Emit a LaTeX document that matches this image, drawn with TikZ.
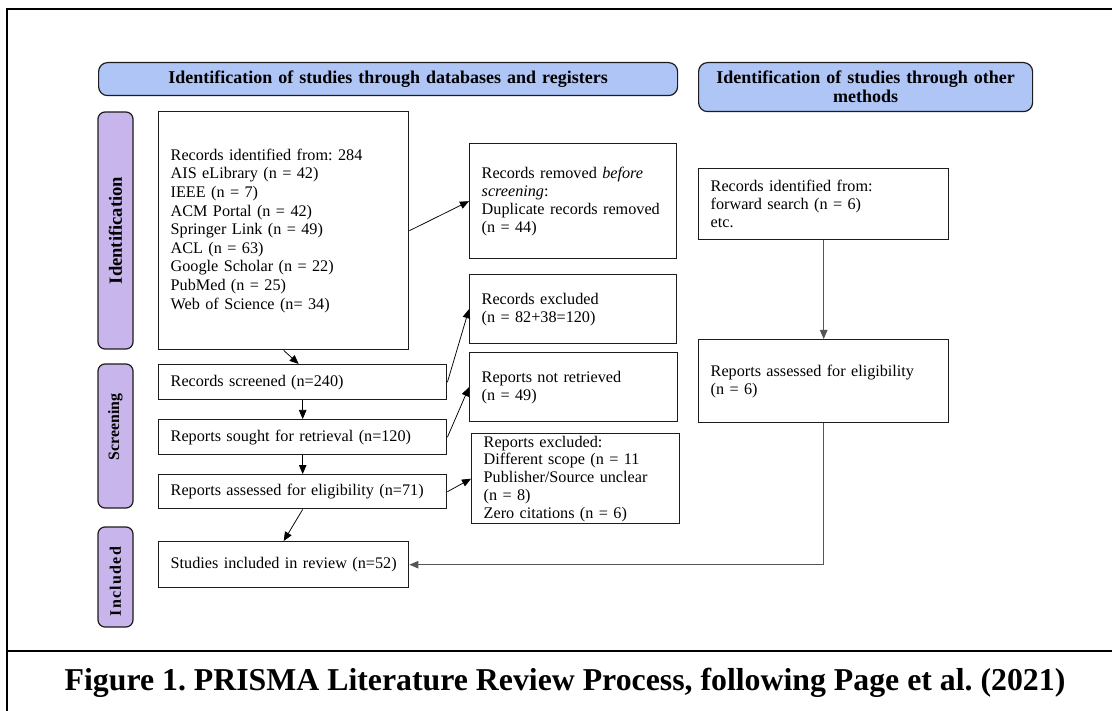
\documentclass[tikz,border=0pt]{standalone}
\usepackage{fontspec}
\setmainfont{Liberation Serif}
\usetikzlibrary{arrows.meta,calc}
\definecolor{hdrblue}{RGB}{175,197,246}
\definecolor{sidepurple}{RGB}{200,181,235}
\definecolor{boxline}{RGB}{28,28,28}
\definecolor{greyline}{RGB}{85,85,85}
\newcommand{\nb}[1]{\mbox{#1}}
\begin{document}
\frenchspacing
\begin{tikzpicture}[x=1pt,y=-1pt,
  box/.style={draw=boxline,line width=1.4pt,anchor=north west,inner xsep=12pt,inner ysep=0pt,
    align=left,font=\fontsize{16.2}{18}\selectfont},
  hdr/.style={draw=boxline,line width=1.2pt,fill=hdrblue,rounded corners=9pt,anchor=north west,
    inner sep=0pt,align=center,font=\bfseries\fontsize{18}{19}\selectfont},
  side/.style={draw=boxline,line width=1.2pt,fill=sidepurple,rounded corners=7pt,rotate=90,
    inner sep=0pt,minimum height=35pt},
  arr/.style={draw=black,line width=0.75pt,-{Triangle[length=9pt,width=7.5pt]}},
  garr/.style={draw=greyline,line width=1pt,-{Triangle[length=9pt,width=7.5pt]}},
  frame/.style={line width=2.6pt,draw=black}]
\useasboundingbox (0,0) rectangle (1112,711);
\fill[white] (0,0) rectangle (1112,711);
% outer frame
\draw[frame] (1125,9) -- (7,9) -- (7,725);
\draw[frame] (7,651) -- (1125,651);
\node[font=\bfseries\fontsize{31.8}{36}\selectfont] (cap) at (565,683) {Figure 1. PRISMA Literature Review Process, following Page et al. (2021)};
% headers
\node[hdr,minimum width=579pt,minimum height=33pt,text width=570pt] (h1) at (98,62) {Identification of studies through databases and registers};
\node[hdr,minimum width=334pt,minimum height=49pt,text width=325pt] (h2) at (698,62) {Identification of studies through other\\methods};
% side labels
\node[side,minimum width=237pt,font=\bfseries\fontsize{18.6}{20}\selectfont] (sid) at (115.5,230.5) {Identification};
\node[side,minimum width=144pt,font=\bfseries\fontsize{15.8}{18}\selectfont] (sscr) at (115.5,436) {\hspace*{18pt}Screening};
\node[side,minimum width=100pt,font=\bfseries\fontsize{16}{18}\selectfont\addfontfeatures{LetterSpace=8}] (sinc) at (115.5,577) {Included\hspace*{9pt}};
% boxes
\node[box,minimum width=250pt,minimum height=238pt,text width=226pt,font=\fontsize{16.2}{18.6}\selectfont] (recid) at (158,111)
  {Records identified from: 284\\AIS eLibrary (n = 42)\\IEEE (n = 7)\\ACM Portal (n = 42)\\Springer Link (n = 49)\\ACL (n = 63)\\Google Scholar (n = 22)\\PubMed (n = 25)\\Web of Science (n= 34)};
\node[box,minimum width=207pt,minimum height=115pt,text width=183pt] (removed) at (469,143)
  {\nb{Records removed \textit{before}}\\\textit{screening}:\\\nb{Duplicate records removed}\\(n = 44)};
\node[box,minimum width=207pt,minimum height=69pt,text width=183pt] (recexcl) at (469,274)
  {Records excluded\\(n = 82+38=120)};
\node[box,minimum width=288pt,minimum height=35pt,text width=264pt] (screened) at (158,364)
  {Records screened (n=240)};
\node[box,minimum width=208pt,minimum height=69pt,text width=184pt] (notret) at (469,352)
  {Reports not retrieved\\(n = 49)};
\node[box,minimum width=288pt,minimum height=35pt,text width=264pt] (sought) at (158,419)
  {\nb{Reports sought for retrieval (n=120)}};
\node[box,minimum width=208pt,minimum height=90pt,text width=184pt,font=\fontsize{16.2}{17.75}\selectfont] (repexcl) at (471,433)
  {Reports excluded:\\\nb{Different scope (n = 11}\\\nb{Publisher/Source unclear}\\(n = 8)\\\nb{Zero citations (n = 6)}};
\node[box,minimum width=288pt,minimum height=34pt,text width=264pt] (assessed) at (158,474)
  {\nb{Reports assessed for eligibility (n=71)}};
\node[box,minimum width=250pt,minimum height=46pt,text width=226pt] (studies) at (158,541)
  {\nb{Studies included in review (n=52)}};
\node[box,minimum width=250pt,minimum height=71pt,text width=226pt] (otherrec) at (698,168)
  {Records identified from:\\forward search (n = 6)\\etc.};
\node[box,minimum width=250pt,minimum height=83pt,text width=226pt] (otherass) at (698,339)
  {\nb{Reports assessed for eligibility}\\(n = 6)};
% connectors
\draw[arr] (recid.east) -- (removed.west);
\draw[arr] (recid.south) -- ([xshift=-4pt]screened.north);
\draw[arr] (screened.east) -- (recexcl.west);
\draw[arr] (screened.south) -- (sought.north);
\draw[arr] (sought.east) -- (notret.west);
\draw[arr] (sought.south) -- (assessed.north);
\draw[arr] (assessed.east) -- (repexcl.west);
\draw[arr] (assessed.south) -- (studies.north);
\draw[garr] (otherrec.south) -- (otherass.north);
\draw[garr] (otherass.south) |- (studies.east);
\end{tikzpicture}
\end{document}
